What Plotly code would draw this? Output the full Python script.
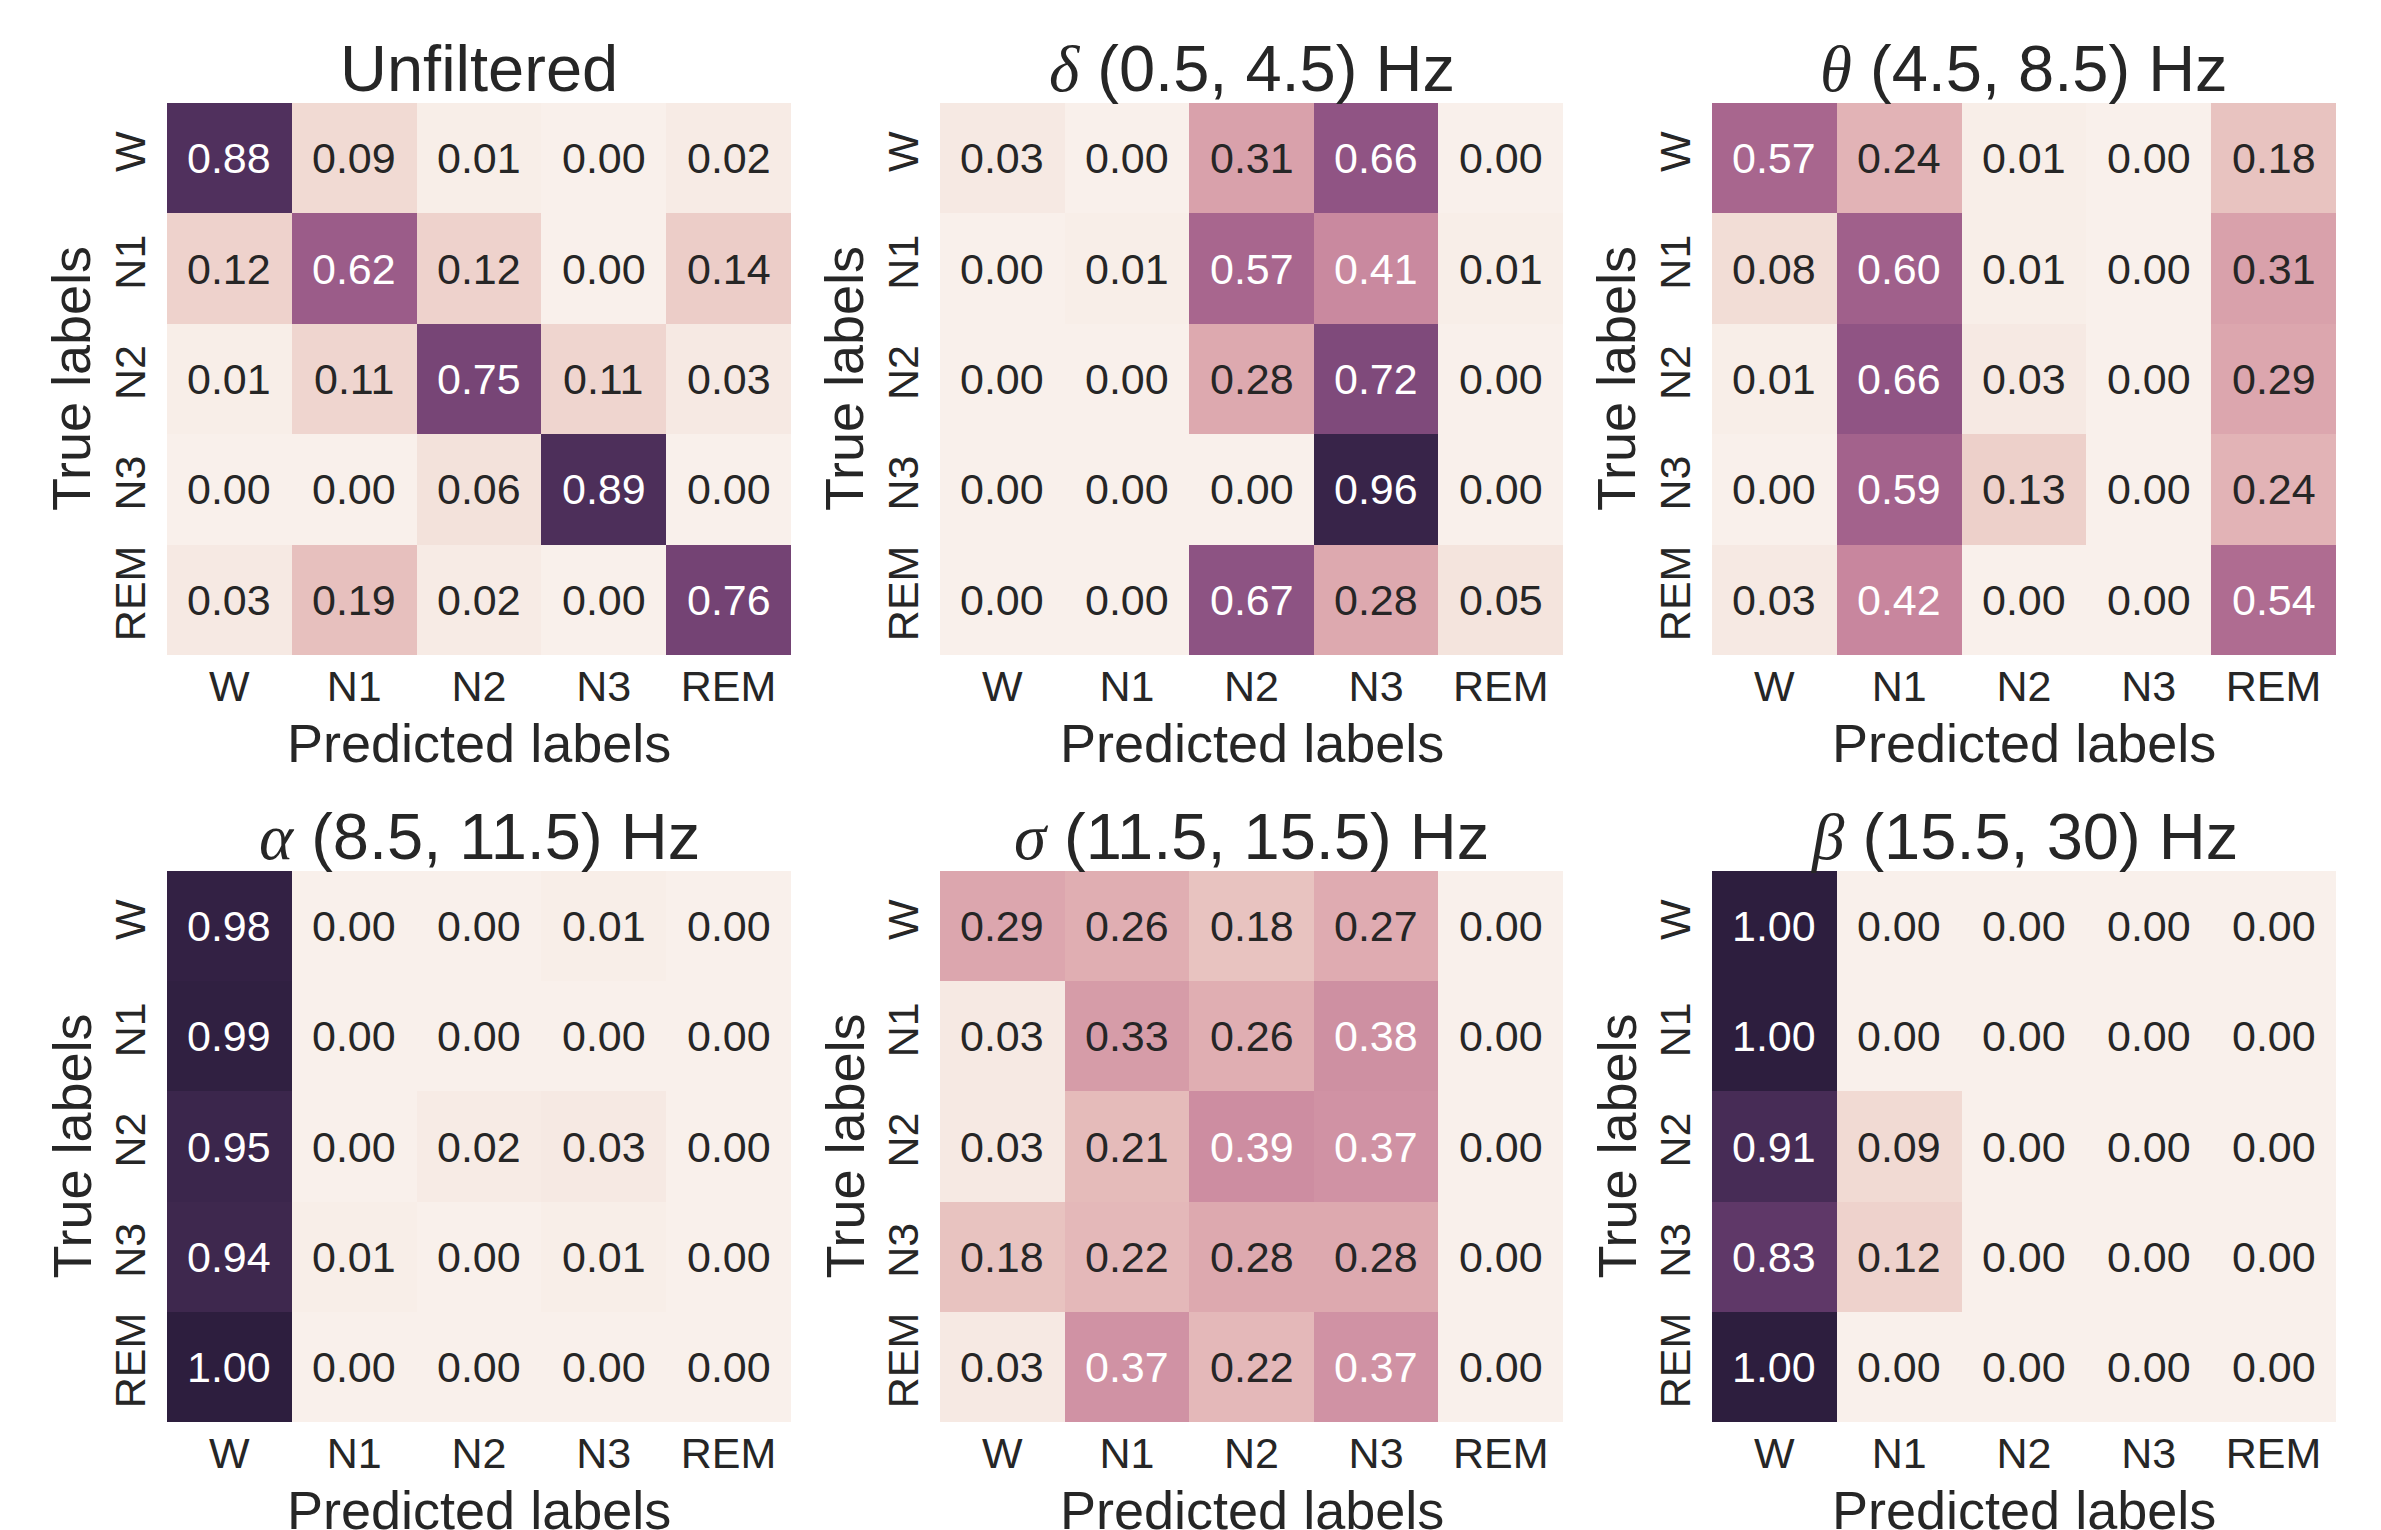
import math
import plotly.graph_objects as go

# Sleep-stage classes (rows: true, columns: predicted)
stages = ["W", "N1", "N2", "N3", "REM"]

# Row-normalised confusion matrices for each band-filtered input
cm_unfiltered = [
    [0.88, 0.09, 0.01, 0.00, 0.02],
    [0.12, 0.62, 0.12, 0.00, 0.14],
    [0.01, 0.11, 0.75, 0.11, 0.03],
    [0.00, 0.00, 0.06, 0.89, 0.00],
    [0.03, 0.19, 0.02, 0.00, 0.76],
]
cm_delta = [
    [0.03, 0.00, 0.31, 0.66, 0.00],
    [0.00, 0.01, 0.57, 0.41, 0.01],
    [0.00, 0.00, 0.28, 0.72, 0.00],
    [0.00, 0.00, 0.00, 0.96, 0.00],
    [0.00, 0.00, 0.67, 0.28, 0.05],
]
cm_theta = [
    [0.57, 0.24, 0.01, 0.00, 0.18],
    [0.08, 0.60, 0.01, 0.00, 0.31],
    [0.01, 0.66, 0.03, 0.00, 0.29],
    [0.00, 0.59, 0.13, 0.00, 0.24],
    [0.03, 0.42, 0.00, 0.00, 0.54],
]
cm_alpha = [
    [0.98, 0.00, 0.00, 0.01, 0.00],
    [0.99, 0.00, 0.00, 0.00, 0.00],
    [0.95, 0.00, 0.02, 0.03, 0.00],
    [0.94, 0.01, 0.00, 0.01, 0.00],
    [1.00, 0.00, 0.00, 0.00, 0.00],
]
cm_sigma = [
    [0.29, 0.26, 0.18, 0.27, 0.00],
    [0.03, 0.33, 0.26, 0.38, 0.00],
    [0.03, 0.21, 0.39, 0.37, 0.00],
    [0.18, 0.22, 0.28, 0.28, 0.00],
    [0.03, 0.37, 0.22, 0.37, 0.00],
]
cm_beta = [
    [1.00, 0.00, 0.00, 0.00, 0.00],
    [1.00, 0.00, 0.00, 0.00, 0.00],
    [0.91, 0.09, 0.00, 0.00, 0.00],
    [0.83, 0.12, 0.00, 0.00, 0.00],
    [1.00, 0.00, 0.00, 0.00, 0.00],
]

# Panel titles: (greek symbol, band text)
titles = [
    ("", "Unfiltered"),
    ("δ", " (0.5, 4.5) Hz"),
    ("θ", " (4.5, 8.5) Hz"),
    ("α", " (8.5, 11.5) Hz"),
    ("σ", " (11.5, 15.5) Hz"),
    ("β", " (15.5, 30) Hz"),
]
matrices = [cm_unfiltered, cm_delta, cm_theta, cm_alpha, cm_sigma, cm_beta]

FONT = "Liberation Sans, Arial, Helvetica, sans-serif"
INK = "#262626"
W, H = 2381, 1530
CELL_FS = 43
TICK_FS = 43
LABEL_FS = 54
TITLE_FS = 65


# Cubehelix colormap (start=0, rot=0.4, hue=0.8, light=0.95, dark=0.15)
def cubehelix(x, start=0.0, rot=0.4, hue=0.8, gamma=1.0):
    xg = x ** gamma
    a = hue * xg * (1 - xg) / 2
    phi = 2 * math.pi * (start / 3 + rot * x)
    r = xg + a * (-0.14861 * math.cos(phi) + 1.78277 * math.sin(phi))
    g = xg + a * (-0.29227 * math.cos(phi) - 0.90649 * math.sin(phi))
    b = xg + a * (1.97294 * math.cos(phi))
    return tuple(min(1, max(0, c)) for c in (r, g, b))


LIGHT, DARK = 0.95, 0.15


def value_rgb(v):
    return cubehelix(LIGHT + (DARK - LIGHT) * v)


def to_css(rgb):
    return "rgb({:.0f},{:.0f},{:.0f})".format(*(c * 255 for c in rgb))


def rel_lum(rgb):
    lin = [c / 12.92 if c <= 0.03928 else ((c + 0.055) / 1.055) ** 2.4 for c in rgb]
    return 0.2126 * lin[0] + 0.7152 * lin[1] + 0.0722 * lin[2]


N_STOPS = 41
colorscale = [[i / (N_STOPS - 1), to_css(value_rgb(i / (N_STOPS - 1)))] for i in range(N_STOPS)]

# Panel placement in pixels: (left, right) per column, (top, bottom) per row
cols_px = [(167, 791), (940, 1563), (1712, 2336)]
rows_px = [(103, 655), (871, 1422)]

fig = go.Figure()
annotations = []

for k, (mat, (sym, band)) in enumerate(zip(matrices, titles)):
    r, c = divmod(k, 3)
    xa = "x" if k == 0 else f"x{k + 1}"
    ya = "y" if k == 0 else f"y{k + 1}"
    xl = "xaxis" if k == 0 else f"xaxis{k + 1}"
    yl = "yaxis" if k == 0 else f"yaxis{k + 1}"
    x0, x1 = cols_px[c]
    t0, t1 = rows_px[r]

    fig.add_trace(go.Heatmap(
        z=mat, x=stages, y=stages, xaxis=xa, yaxis=ya,
        colorscale=colorscale, zmin=0, zmax=1, showscale=False,
        hoverinfo="skip",
    ))

    fig.layout[xl] = dict(
        domain=[x0 / W, x1 / W], anchor=ya,
        showgrid=False, zeroline=False, showline=False, ticks="",
        tickfont=dict(family=FONT, size=TICK_FS, color=INK),
        ticklabelstandoff=2,
        fixedrange=True,
    )
    fig.layout[yl] = dict(
        domain=[1 - t1 / H, 1 - t0 / H], anchor=xa,
        autorange="reversed",
        showgrid=False, zeroline=False, showline=False, ticks="",
        tickangle=-90,
        tickfont=dict(family=FONT, size=TICK_FS, color=INK),
        ticklabelstandoff=12,
        fixedrange=True,
    )

    # Axis titles
    annotations.append(dict(
        x=(x0 + x1) / 2 / W, y=1 - (t1 + 88) / H, xref="paper", yref="paper",
        xanchor="center", yanchor="middle", text="Predicted labels", showarrow=False,
        font=dict(family=FONT, size=LABEL_FS, color=INK),
    ))
    annotations.append(dict(
        x=(x0 - 96) / W, y=1 - (t0 + t1) / 2 / H, xref="paper", yref="paper",
        xanchor="center", yanchor="middle", textangle=-90, text="True labels", showarrow=False,
        font=dict(family=FONT, size=LABEL_FS, color=INK),
    ))

    # Cell values
    for i, row in enumerate(mat):
        for j, v in enumerate(row):
            txt_col = INK if rel_lum(value_rgb(v)) > 0.408 else "#ffffff"
            annotations.append(dict(
                x=stages[j], y=stages[i], xref=xa, yref=ya,
                text=f"{v:.2f}", showarrow=False,
                font=dict(family=FONT, size=CELL_FS, color=txt_col),
            ))

    # Panel title
    if sym:
        ttl = (f"<span style=\"font-family:'Liberation Serif', serif\"><i>{sym}</i></span>{band}")
    else:
        ttl = band
    annotations.append(dict(
        x=(x0 + x1) / 2 / W, y=1 - t0 / H, xref="paper", yref="paper",
        xanchor="center", yanchor="bottom", yshift=-4,
        text=ttl, showarrow=False,
        font=dict(family=FONT, size=TITLE_FS, color=INK),
    ))

fig.update_layout(
    width=W, height=H,
    margin=dict(l=0, r=0, t=0, b=0),
    paper_bgcolor="white", plot_bgcolor="white",
    annotations=annotations,
    showlegend=False,
)

fig.write_html("out.html")
